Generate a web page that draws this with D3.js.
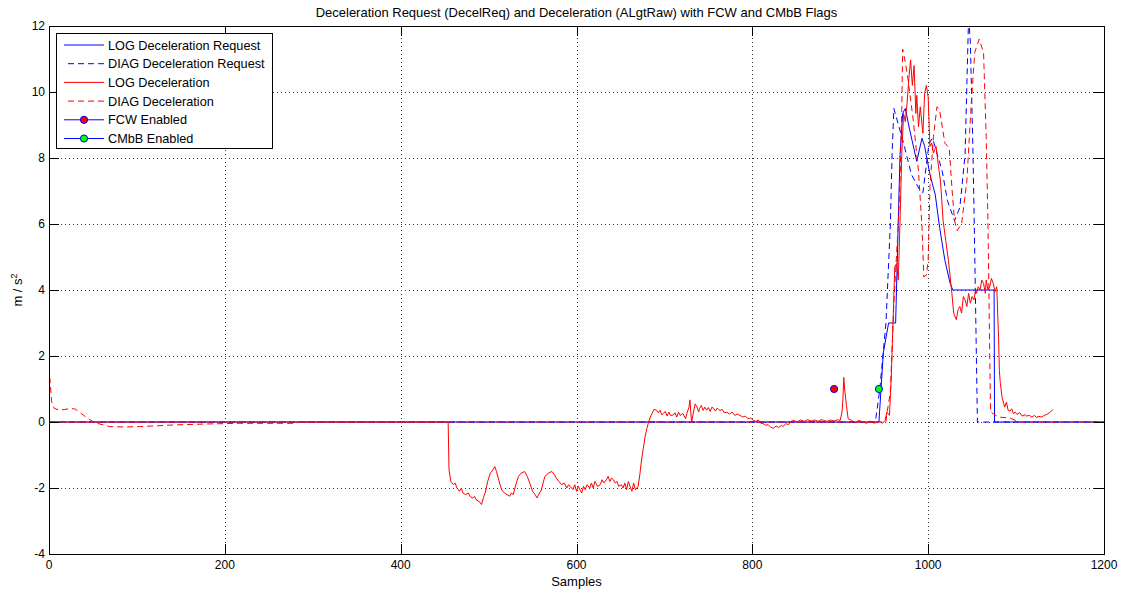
<!DOCTYPE html>
<html><head><meta charset="utf-8">
<script src="https://cdn.jsdelivr.net/npm/d3@7"></script>
<style>
body{margin:0;background:#fff;}
svg{display:block;}
.nar{font-family:"Liberation Sans Narrow","Arial Narrow","Liberation Sans",Arial,sans-serif;}
.reg{font-family:"Liberation Sans",Arial,sans-serif;}
</style>
</head><body>
<svg id="c" width="1121" height="593"></svg>
<script>
// ---------- texts ----------
const chartTitle = "Deceleration Request (DecelReq) and Deceleration (ALgtRaw) with FCW and CMbB Flags";
const xLabel = "Samples";
const yLabelMain = "m / s";
const yLabelSup = "2";
const legendLabels = ["LOG Deceleration Request","DIAG Deceleration Request","LOG Deceleration","DIAG Deceleration","FCW Enabled","CMbB Enabled"];

// ---------- ticks ----------
const xTicks = [0,200,400,600,800,1000,1200];
const yTicks = [-4,-2,0,2,4,6,8,10,12];
const xDomain = [0,1200];
const yDomain = [-4,12];

// ---------- series: [sample, m/s^2] ----------
const logRequest = [
 [0,0],[944,0],[949,2.1],[955,3.0],[963,3.0],[966,6.1],[968,8.1],[971,9.35],[974,9.5],
 [979,8.85],[987,7.9],[993,8.6],[996,8.35],[1002,7.5],[1008,6.9],[1013,5.9],[1019,4.9],
 [1025,4.2],[1028,4.0],[1075,4.0],[1075.5,0],[1200,0]
];
const diagRequest = [
 [0,0],[940,0],[945,1.0],[952,3.0],[957,6.0],[959,8.15],[961,9.5],[972,8.45],[981,7.5],
 [991,7.0],[994,6.95],[1001,8.45],[1005,8.6],[1016,7.6],[1022,6.7],[1030,6.1],[1036,6.5],
 [1042,8.1],[1044,10.2],[1046,12.3],[1048,11.5],[1051,8.15],[1053,5.1],[1056,0],[1200,0]
];
const logDecel = [
 [0,0],[454,0],[455,-1.45],[457,-1.8],[460,-1.9],[462,-1.85],[464,-2.0],[467,-2.1],[469,-2.0],
 [471,-2.16],[474,-2.2],[477,-2.15],[479,-2.26],[482,-2.3],[484,-2.25],[486,-2.36],[489,-2.4],
 [492,-2.5],[494,-2.3],[496,-2.16],[499,-1.8],[502,-1.55],[505,-1.45],[507,-1.35],[509,-1.5],
 [511,-1.7],[513,-1.9],[515,-2.06],[518,-2.15],[521,-2.2],[524,-2.25],[526,-2.15],[528,-2.2],
 [531,-1.9],[534,-1.65],[537,-1.55],[541,-1.5],[544,-1.65],[547,-1.86],[550,-2.1],[553,-2.2],
 [555,-2.3],[558,-2.15],[560,-2.06],[562,-1.85],[564,-1.65],[568,-1.55],[572,-1.5],[575,-1.6],
 [577,-1.7],[580,-1.8],[583,-1.9],[586,-1.85],[589,-2.0],[591,-1.9],[593,-1.96],[596,-2.05],
 [598,-1.9],[600,-2.1],[602,-1.95],[604,-2.06],[606,-2.15],[608,-1.95],[610,-2.05],[612,-1.9],
 [615,-2.0],[617,-1.85],[619,-2.0],[621,-1.8],[624,-1.95],[627,-1.9],[629,-1.75],[631,-1.85],
 [634,-1.75],[636,-1.65],[638,-1.8],[640,-1.7],[642,-1.75],[644,-1.85],[646,-1.8],[648,-1.95],
 [651,-1.9],[653,-2.0],[655,-1.85],[657,-2.05],[659,-1.8],[661,-1.96],[663,-2.1],[665,-1.85],
 [667,-2.05],[670,-1.96],[672,-1.6],[674,-1.15],[676,-0.8],[678,-0.45],[680,-0.2],[682,0],
 [684,0.15],[686,0.26],[688,0.38],[691,0.36],[693,0.28],[695,0.35],[697,0.22],[699,0.26],
 [701,0.32],[703,0.18],[705,0.3],[707,0.2],[710,0.21],[712,0.28],[714,0.15],[716,0.3],
 [718,0.2],[721,0.26],[724,0.1],[726,0.3],[728,0.45],[729,0.67],[730,0.3],[731,-0.02],
 [733,0.3],[735,0.55],[737,0.46],[739,0.3],[740,0.41],[742,0.5],[744,0.35],[746,0.45],
 [748,0.36],[750,0.44],[752,0.32],[754,0.45],[756,0.41],[758,0.33],[760,0.42],[763,0.35],
 [766,0.38],[768,0.28],[771,0.3],[774,0.24],[777,0.3],[780,0.2],[783,0.24],[786,0.2],
 [789,0.15],[792,0.18],[795,0.1],[798,0.12],[801,0.05],[804,0.02],[807,0.06],[810,-0.05],
 [812,-0.04],[815,-0.1],[818,-0.08],[821,-0.16],[824,-0.19],[827,-0.12],[830,-0.17],
 [833,-0.1],[835,-0.14],[838,-0.05],[841,-0.08],[844,0.02],[847,0.05],[851,0.0],[855,0.06],
 [859,0.02],[863,0.07],[867,0.03],[871,0.06],[875,0.02],[878,0.07],[881,0.05],[885,0.02],
 [889,0.06],[893,0.03],[897,0.07],[900,0.05],[902,0.3],[903,0.67],[904,1.35],[905,1.0],
 [907,0.5],[909,0.1],[913,0.05],[917,-0.02],[921,0.05],[926,0.0],[930,-0.04],[934,0.03],
 [938,-0.03],[941,-0.02],[945,0.02],[948,-0.04],[951,0.05],[953,0.3],[956,0.2],[958,1.35],
 [960,3.0],[962,4.7],[964,4.8],[966,4.3],[968,6.1],[970,8.1],[972,9.35],[974,9.1],[976,9.65],
 [978,10.4],[980,10.97],[982,10.2],[984,10.8],[986,9.35],[987,9.9],[989,8.95],[991,9.55],
 [994,8.75],[996,9.96],[998,10.2],[1000,9.85],[1002,8.35],[1004,8.45],[1006,8.15],[1009,8.35],
 [1011,7.9],[1014,7.3],[1017,6.1],[1020,5.5],[1023,4.9],[1027,3.9],[1029,3.3],[1032,3.1],
 [1034,3.4],[1036,3.5],[1038,3.3],[1040,3.8],[1042,3.7],[1044,3.5],[1046,3.9],[1048,3.6],
 [1050,3.8],[1052,3.7],[1054,4.0],[1055,3.9],[1057,4.1],[1059,4.0],[1061,4.3],[1063,4.2],
 [1065,3.9],[1066,4.3],[1068,4.0],[1070,4.1],[1072,4.35],[1074,4.2],[1076,3.95],[1078,4.1],
 [1080,2.6],[1081,1.55],[1082,1.2],[1084,0.75],[1086,0.55],[1087,0.45],[1089,0.6],[1091,0.35],
 [1093,0.33],[1095,0.4],[1097,0.25],[1099,0.3],[1101,0.23],[1104,0.28],[1107,0.18],
 [1110,0.22],[1112,0.18],[1115,0.2],[1118,0.15],[1121,0.2],[1123,0.14],[1126,0.17],
 [1129,0.15],[1132,0.2],[1135,0.23],[1138,0.28],[1140,0.33],[1142,0.38]
];
const diagDecel = [
 [0,1.35],[1,1.32],[2,0.97],[3,0.62],[6,0.41],[12,0.36],[18,0.38],[24,0.41],[30,0.39],
 [39,0.21],[46,0.08],[52,-0.02],[62,-0.09],[69,-0.14],[86,-0.15],[103,-0.14],[141,-0.09],
 [179,-0.06],[217,-0.04],[282,-0.04],[283,0],[952,0],[953,0.25],[957,0.9],[961,3.6],
 [966,6.0],[968,7.3],[970,9.5],[971,11.3],[974,10.9],[977,10.4],[983,9.15],[989,7.6],
 [993,5.9],[995,4.4],[998,4.45],[1000,4.9],[1002,7.1],[1006,8.65],[1010,9.55],[1013,9.45],
 [1019,8.45],[1024,8.3],[1027,7.1],[1030,6.1],[1033,5.8],[1038,6.0],[1044,7.3],[1049,9.65],
 [1053,11.2],[1058,11.6],[1063,11.2],[1066,8.65],[1068,6.1],[1069,4.1],[1070,2.1],
 [1071,0.3],[1080,0.15],[1093,0.12],[1104,0],[1200,0]
];
const fcwPoint = [[893,1.0]];
const cmbbPoint = [[944,1.0]];

// ---------- drawing ----------
const W = 1121, H = 593;
const plot = {left:49, right:1104, top:26, bottom:554};
const svg = d3.select("#c");
const x = d3.scaleLinear().domain(xDomain).range([plot.left, plot.right]);
const y = d3.scaleLinear().domain(yDomain).range([plot.bottom, plot.top]);

svg.append("rect").attr("width",W).attr("height",H).attr("fill","#fff");
svg.append("rect").attr("x",plot.left).attr("y",plot.top)
  .attr("width",plot.right-plot.left).attr("height",plot.bottom-plot.top).attr("fill","#fff");

svg.append("defs").append("clipPath").attr("id","clip")
  .append("rect").attr("x",plot.left).attr("y",plot.top)
  .attr("width",plot.right-plot.left).attr("height",plot.bottom-plot.top);

// grid
const grid = svg.append("g");
grid.selectAll(".vg").data(xTicks.slice(1,-1)).join("line")
  .attr("x1",d=>Math.round(x(d))+0.5).attr("x2",d=>Math.round(x(d))+0.5)
  .attr("y1",plot.top).attr("y2",plot.bottom)
  .attr("stroke","#333").attr("stroke-width",1).attr("stroke-dasharray","1,3");
grid.selectAll(".hg").data(yTicks.slice(1,-1)).join("line")
  .attr("y1",d=>Math.round(y(d))+0.5).attr("y2",d=>Math.round(y(d))+0.5)
  .attr("x1",plot.left).attr("x2",plot.right)
  .attr("stroke","#333").attr("stroke-width",1).attr("stroke-dasharray","1,3");

// lines
const line = d3.line().x(d=>x(d[0])).y(d=>y(d[1]));
const lg = svg.append("g").attr("clip-path","url(#clip)");
const seriesStyles = [
  {data:logRequest, color:"#0000ff", dash:null},
  {data:diagRequest, color:"#0000ff", dash:"6,4"},
  {data:logDecel, color:"#ff0000", dash:null},
  {data:diagDecel, color:"#ff0000", dash:"6,4"}
];
seriesStyles.forEach(s=>{
  lg.append("path").datum(s.data).attr("d",line).attr("fill","none")
    .attr("stroke",s.color).attr("stroke-width",1)
    .attr("stroke-dasharray",s.dash);
});
// markers
lg.selectAll(".fcw").data(fcwPoint).join("circle")
  .attr("cx",d=>x(d[0])).attr("cy",d=>y(d[1])).attr("r",3.6)
  .attr("fill","#ff0000").attr("stroke","#0000ff").attr("stroke-width",1);
lg.selectAll(".cmbb").data(cmbbPoint).join("circle")
  .attr("cx",d=>x(d[0])).attr("cy",d=>y(d[1])).attr("r",3.6)
  .attr("fill","#00ff00").attr("stroke","#0000ff").attr("stroke-width",1);

// axes box
const tickLen = 10;
const ax = svg.append("g").attr("stroke","#000").attr("stroke-width",1).attr("shape-rendering","crispEdges");
ax.append("rect").attr("x",plot.left+0.5).attr("y",plot.top+0.5)
  .attr("width",plot.right-plot.left).attr("height",plot.bottom-plot.top).attr("fill","none");
xTicks.forEach(t=>{
  const px = Math.round(x(t))+0.5;
  ax.append("line").attr("x1",px).attr("x2",px).attr("y1",plot.bottom).attr("y2",plot.bottom-tickLen);
  ax.append("line").attr("x1",px).attr("x2",px).attr("y1",plot.top).attr("y2",plot.top+tickLen);
});
yTicks.forEach(t=>{
  const py = Math.round(y(t))+0.5;
  ax.append("line").attr("y1",py).attr("y2",py).attr("x1",plot.left).attr("x2",plot.left+tickLen);
  ax.append("line").attr("y1",py).attr("y2",py).attr("x1",plot.right).attr("x2",plot.right-tickLen);
});

// tick labels
const tl = svg.append("g").attr("class","nar").attr("font-size",12).attr("fill","#000");
tl.selectAll(".xt").data(xTicks).join("text")
  .attr("x",d=>x(d)).attr("y",plot.bottom+15).attr("text-anchor","middle").text(d=>d);
tl.selectAll(".yt").data(yTicks).join("text")
  .attr("x",plot.left-4).attr("y",d=>y(d)+4).attr("text-anchor","end").text(d=>d);

// title and labels
svg.append("text").attr("class","nar").attr("x",(plot.left+plot.right)/2).attr("y",17)
  .attr("text-anchor","middle").attr("font-size",13).text(chartTitle);
svg.append("text").attr("class","nar").attr("x",(plot.left+plot.right)/2).attr("y",586)
  .attr("text-anchor","middle").attr("font-size",13).text(xLabel);
const yl = svg.append("text").attr("class","nar").attr("font-size",13)
  .attr("transform",`translate(22,${(plot.top+plot.bottom)/2}) rotate(-90)`).attr("text-anchor","middle");
yl.append("tspan").text(yLabelMain);
yl.append("tspan").attr("font-size",9).attr("dy",-5).text(yLabelSup);

// legend
const leg = svg.append("g").attr("class","reg");
leg.append("rect").attr("x",56.5).attr("y",33.5).attr("width",216).attr("height",115)
  .attr("fill","#fff").attr("stroke","#000").attr("stroke-width",1);
const legStyles = [
  {color:"#0000ff", dash:null, marker:null},
  {color:"#0000ff", dash:"6,4", marker:null},
  {color:"#ff0000", dash:null, marker:null},
  {color:"#ff0000", dash:"6,4", marker:null},
  {color:"#0000ff", dash:null, marker:"#ff0000"},
  {color:"#0000ff", dash:null, marker:"#00ff00"}
];
const rowY = d3.scaleLinear().domain([0,5]).range([45,138.5]);
legendLabels.forEach((lab,i)=>{
  const st = legStyles[i];
  const yy = rowY(i);
  leg.append("line").attr("x1",st.dash?68:64).attr("x2",104).attr("y1",yy).attr("y2",yy)
    .attr("stroke",st.color).attr("stroke-width",1).attr("stroke-dasharray",st.dash);
  if(st.marker){
    leg.append("circle").attr("cx",84).attr("cy",yy).attr("r",3.6)
      .attr("fill",st.marker).attr("stroke","#0000ff");
  }
  leg.append("text").attr("x",108).attr("y",yy+4.5).attr("font-size",12.7).text(lab);
});
</script>
</body></html>
